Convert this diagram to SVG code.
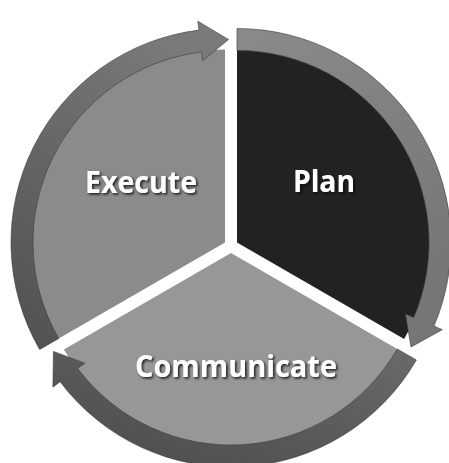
<svg xmlns="http://www.w3.org/2000/svg" width="449" height="463" viewBox="0 0 449 463">
  <defs>
    <filter id="shadow" x="-10%" y="-20%" width="130%" height="150%">
      <feDropShadow dx="1.5" dy="1.5" stdDeviation="0.8" flood-color="#111" flood-opacity="0.9"/>
    </filter>
    <linearGradient id="gExec" x1="0" y1="1" x2="0.6" y2="0">
      <stop offset="0" stop-color="#505050"/>
      <stop offset="1" stop-color="#7a7a7a"/>
    </linearGradient>
    <linearGradient id="gPlan" x1="0" y1="0" x2="0.4" y2="1">
      <stop offset="0" stop-color="#8a8a8a"/>
      <stop offset="1" stop-color="#767676"/>
    </linearGradient>
    <linearGradient id="gComm" x1="1" y1="0" x2="0" y2="1">
      <stop offset="0" stop-color="#6a6a6a"/>
      <stop offset="1" stop-color="#4a4a4a"/>
    </linearGradient>
  </defs>
  <style>
    .label { font-family: "Open Sans", "Liberation Sans", sans-serif; font-weight: 700; font-size: 31px; fill: #ffffff; filter: url(#shadow); }
    .band { stroke: #3a3a3a; stroke-width: 0.6; }
  </style>
  <rect width="449" height="463" fill="#ffffff"/>

  <g id="execute" transform="translate(225,242.5)">
    <path d="M0,0 L-167.14,96.5 A193,193 0 0 1 0,-193 Z" fill="#8b8b8b"/>
    <path class="band" d="M-185.33,107 A214,214 0 0 1 -26.08,-212.4 L-27.18,-221.34 L3.54,-202.97 L-22.3,-181.64 L-23.4,-190.57 A192,192 0 0 0 -166.28,96 Z" fill="url(#gExec)"/>
  </g>

  <g id="plan" transform="translate(237,242.5)">
    <path d="M0,0 L0,-193 A193,193 0 0 1 167.14,96.5 Z" fill="#222222"/>
    <path class="band" d="M0,-214 A214,214 0 0 1 196.99,83.62 L205.27,87.13 L174,104.55 L168.45,71.5 L176.74,75.02 A192,192 0 0 0 0,-192 Z" fill="url(#gPlan)"/>
  </g>

  <g id="communicate" transform="translate(231,253)">
    <path d="M0,0 L167.14,96.5 A193,193 0 0 1 -167.14,96.5 Z" fill="#979797"/>
    <path class="band" d="M185.33,107 A214,214 0 0 1 -170.91,128.79 L-178.1,134.2 L-177.55,98.42 L-146.15,110.13 L-153.34,115.55 A192,192 0 0 0 166.28,96 Z" fill="url(#gComm)"/>
  </g>

  <g id="connectors"></g>

  <g id="labels">
    <text class="label" x="85" y="193" textLength="112" lengthAdjust="spacingAndGlyphs">Execute</text>
    <text class="label" x="293" y="192" textLength="62" lengthAdjust="spacingAndGlyphs">Plan</text>
    <text class="label" x="135" y="377" textLength="202" lengthAdjust="spacingAndGlyphs">Communicate</text>
  </g>
</svg>
